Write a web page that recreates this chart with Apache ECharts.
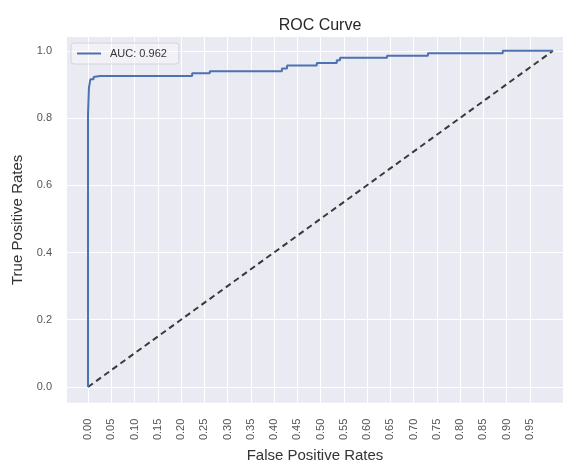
<!DOCTYPE html>
<html>
<head>
<meta charset="utf-8">
<script src="https://cdn.jsdelivr.net/npm/echarts@6/dist/echarts.min.js"></script>
<style>html,body{margin:0;padding:0;background:#fff}#c{width:568px;height:468px}</style>
</head>
<body>
<div id="c"></div>
<script>
var xTicks = [0,0.05,0.10,0.15,0.20,0.25,0.30,0.35,0.40,0.45,0.50,0.55,0.60,0.65,0.70,0.75,0.80,0.85,0.90,0.95];
var yTicks = [0,0.2,0.4,0.6,0.8,1.0];
var fpr = [0,0,0.002,0.002,0.005,0.005,0.012,0.012,0.026,0.224,0.224,0.262,0.262,0.417,0.417,0.428,0.428,0.492,0.492,0.535,0.535,0.542,0.542,0.643,0.643,0.731,0.731,0.892,0.892,1.0];
var tpr = [0,0.813,0.813,0.89,0.89,0.915,0.915,0.922,0.925,0.925,0.933,0.933,0.939,0.939,0.947,0.947,0.956,0.956,0.964,0.964,0.972,0.972,0.979,0.979,0.985,0.985,0.993,0.993,1.0,1.0];
var diagX = [0,1];
var diagY = [0,1];
var aucLabel = 'AUC: 0.962';

var chart = echarts.init(document.getElementById('c'), null, {renderer:'canvas'});
var font = 'Liberation Sans, Arial, sans-serif';
chart.setOption({
  animation:false,
  title:{text:'ROC Curve', left:315, textAlign:'center', top:13,
    textStyle:{fontFamily:font, fontSize:16, fontWeight:'normal', color:'#262626'}},
  grid:{left:67, top:37, right:5, bottom:59, show:true, backgroundColor:'#eaeaf2', borderWidth:0},
  legend:{left:71, top:43, orient:'vertical', padding:[5,12,5,6],
    backgroundColor:'rgba(255,255,255,0.35)', borderColor:'#d4d4dc', borderWidth:1, borderRadius:3,
    itemWidth:24, itemHeight:2, itemGap:5,
    data:[{name:aucLabel, icon:'path://M0,0H24V2H0Z'}],
    textStyle:{fontFamily:font, fontSize:11, color:'#333', padding:[0,0,0,4]}},
  xAxis:{type:'value', min:-0.0452, max:1.0215,
    name:'False Positive Rates', nameLocation:'middle', nameGap:42,
    nameTextStyle:{fontFamily:font, fontSize:15, color:'#333'},
    axisLine:{show:false}, axisTick:{show:false, customValues:xTicks},
    axisLabel:{customValues:xTicks, rotate:90, margin:16, fontFamily:font, fontSize:11, color:'#555',
      formatter:function(v){return v.toFixed(2);}},
    splitLine:{show:true, lineStyle:{color:'#ffffff', width:1}}},
  yAxis:{type:'value', min:-0.0468, max:1.041,
    name:'True Positive Rates', nameLocation:'middle', nameGap:38,
    nameTextStyle:{fontFamily:font, fontSize:15, color:'#333'},
    axisLine:{show:false}, axisTick:{show:false, customValues:yTicks},
    axisLabel:{customValues:yTicks, margin:15, fontFamily:font, fontSize:11, color:'#555',
      formatter:function(v){return v.toFixed(1);}},
    splitLine:{show:true, lineStyle:{color:'#ffffff', width:1}}},
  series:[
    {name:aucLabel, type:'line', symbol:'none', showSymbol:false, z:3,
      lineStyle:{color:'#4c72b0', width:2}, itemStyle:{color:'#4c72b0'},
      data:fpr.map(function(x,i){return [x,tpr[i]];})},
    {name:'diag', type:'line', symbol:'none', showSymbol:false, z:2,
      lineStyle:{color:'#3a3a3a', width:2, type:[6,4]},
      data:diagX.map(function(x,i){return [x,diagY[i]];})}
  ]
});
</script>
</body>
</html>
